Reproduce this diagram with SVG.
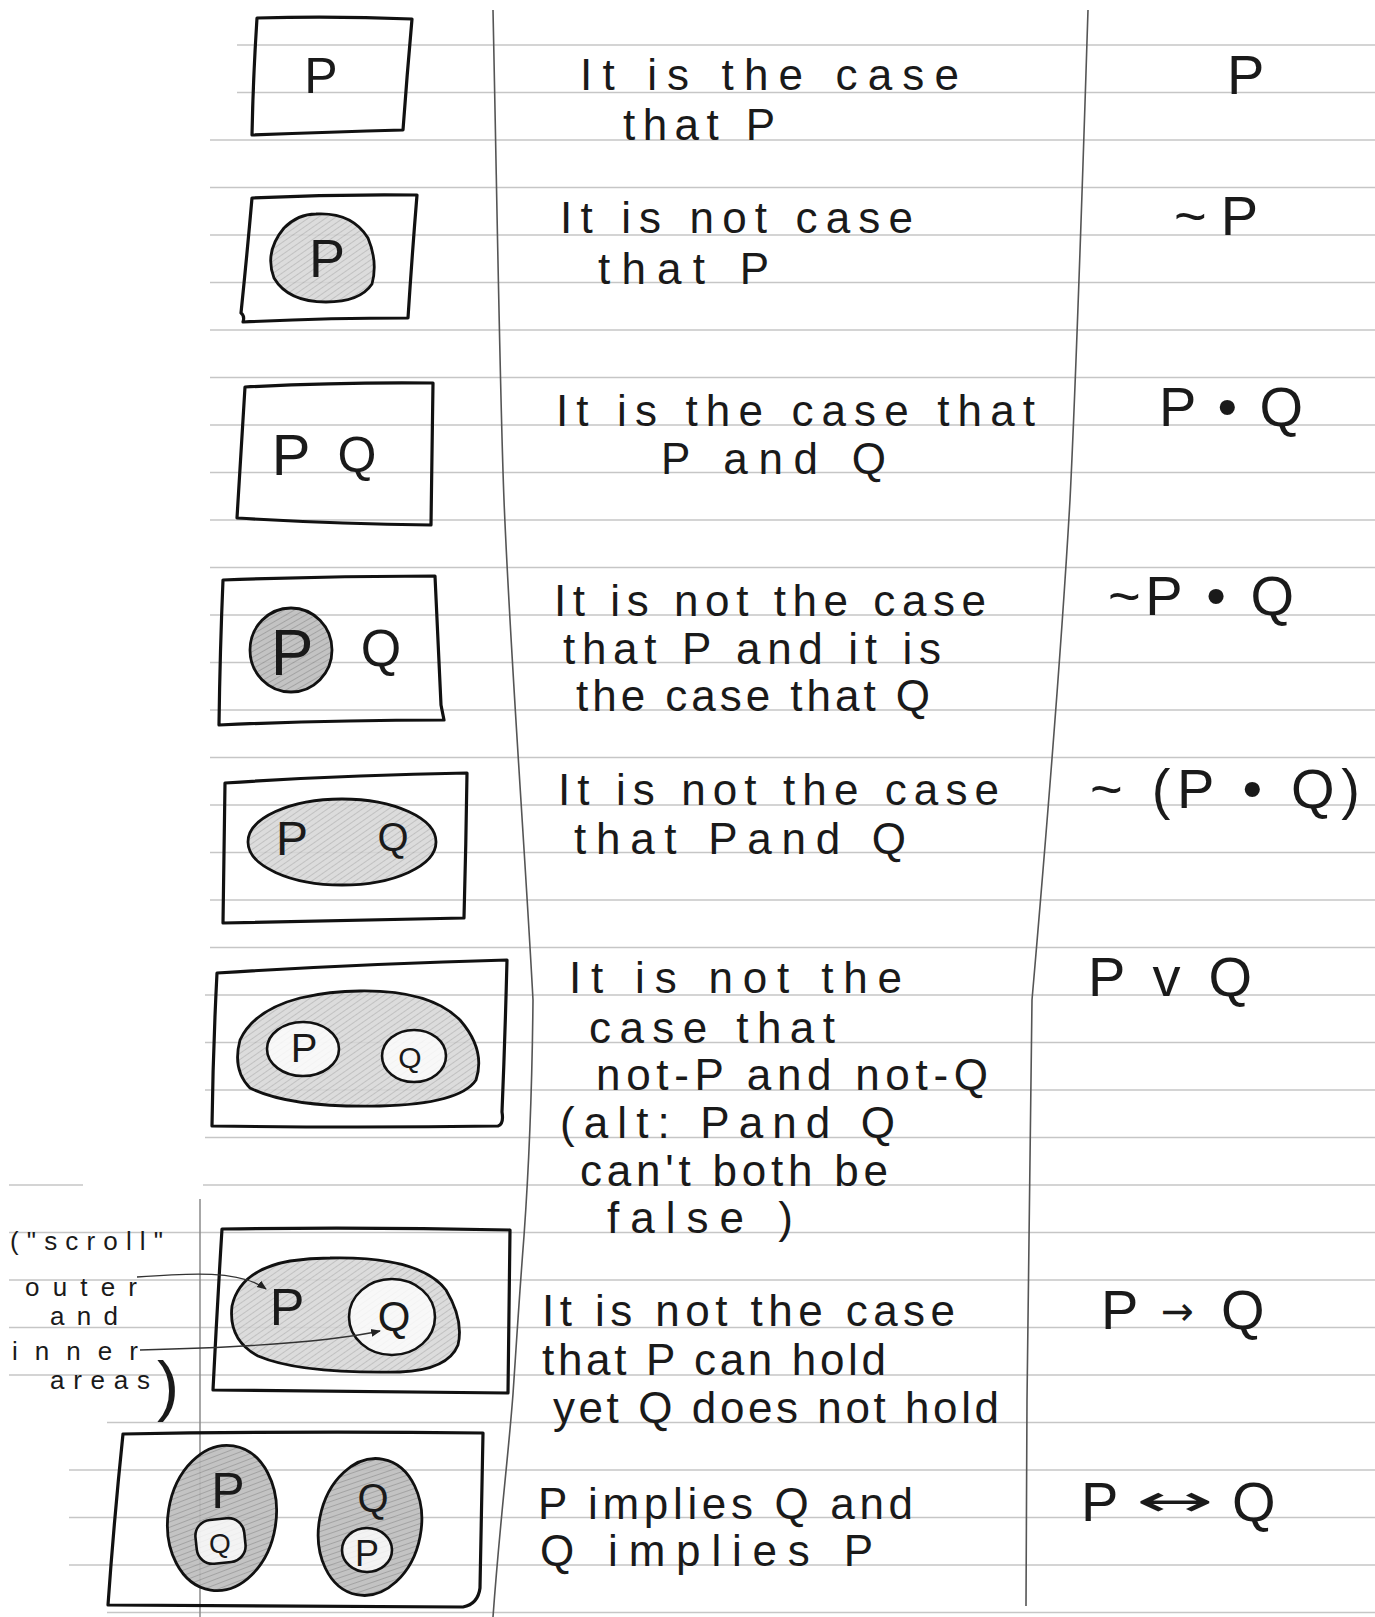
<svg xmlns="http://www.w3.org/2000/svg" width="1375" height="1617" viewBox="0 0 1375 1617">
<defs>
<pattern id="hatch" width="5" height="5" patternUnits="userSpaceOnUse" patternTransform="rotate(55)">
<rect width="5" height="5" fill="#d6d6d6"/>
<line x1="0" y1="0" x2="0" y2="5" stroke="#9c9c9c" stroke-width="1.1"/>
</pattern>
<pattern id="hatchDark" width="5" height="5" patternUnits="userSpaceOnUse" patternTransform="rotate(60)">
<rect width="5" height="5" fill="#bdbdbd"/>
<line x1="0" y1="0" x2="0" y2="5" stroke="#808080" stroke-width="1.2"/>
</pattern>
<marker id="arrow" viewBox="0 0 10 10" refX="9" refY="5" markerWidth="7" markerHeight="7" orient="auto-start-reverse">
<path d="M0,1 L10,5 L0,9 Z" fill="#222"/>
</marker>
</defs>
<style>
.rule{stroke:#c6c6c6;stroke-width:1.5}
.margin{stroke:#8a8a8a;stroke-width:1.5}
.divider{fill:none;stroke:#555;stroke-width:1.6}
.box{fill:none;stroke:#111;stroke-width:3.2;stroke-linejoin:round}
.shade{fill:url(#hatch);fill-opacity:0.85;stroke:#111;stroke-width:2.8}
.shadeDark{fill:url(#hatchDark);fill-opacity:0.9;stroke:#111;stroke-width:2.8}
.inner{fill:#fff;fill-opacity:0.8;stroke:#111;stroke-width:2.6}
.hw{font-family:"Liberation Sans","DejaVu Sans",sans-serif;fill:#1a1a1a;font-size:44px}
.sym{font-size:56px}
.arr{font-family:"DejaVu Sans","Liberation Sans",sans-serif;fill:#1a1a1a}
.note{font-size:26px}
.mid{text-anchor:middle}
.conn{fill:none;stroke:#333;stroke-width:1.4}
</style>
<rect width="1375" height="1617" fill="#fff"/>
<g id="paper">
<line class="rule" x1="237" y1="45" x2="1375" y2="45"/>
<line class="rule" x1="237" y1="92.5" x2="1375" y2="92.5"/>
<line class="rule" x1="210" y1="140" x2="1375" y2="140"/>
<line class="rule" x1="210" y1="187.5" x2="1375" y2="187.5"/>
<line class="rule" x1="210" y1="235" x2="1375" y2="235"/>
<line class="rule" x1="210" y1="282.5" x2="1375" y2="282.5"/>
<line class="rule" x1="210" y1="330" x2="1375" y2="330"/>
<line class="rule" x1="210" y1="377.5" x2="1375" y2="377.5"/>
<line class="rule" x1="210" y1="425" x2="1375" y2="425"/>
<line class="rule" x1="210" y1="472.5" x2="1375" y2="472.5"/>
<line class="rule" x1="210" y1="520" x2="1375" y2="520"/>
<line class="rule" x1="210" y1="567.5" x2="1375" y2="567.5"/>
<line class="rule" x1="210" y1="615" x2="1375" y2="615"/>
<line class="rule" x1="210" y1="662.5" x2="1375" y2="662.5"/>
<line class="rule" x1="210" y1="710" x2="1375" y2="710"/>
<line class="rule" x1="210" y1="757.5" x2="1375" y2="757.5"/>
<line class="rule" x1="210" y1="805" x2="1375" y2="805"/>
<line class="rule" x1="210" y1="852.5" x2="1375" y2="852.5"/>
<line class="rule" x1="210" y1="900" x2="1375" y2="900"/>
<line class="rule" x1="210" y1="947.5" x2="1375" y2="947.5"/>
<line class="rule" x1="205" y1="995" x2="1375" y2="995"/>
<line class="rule" x1="205" y1="1042.5" x2="1375" y2="1042.5"/>
<line class="rule" x1="205" y1="1090" x2="1375" y2="1090"/>
<line class="rule" x1="205" y1="1137.5" x2="1375" y2="1137.5"/>
<line class="rule" x1="9" y1="1185" x2="83" y2="1185"/>
<line class="rule" x1="203" y1="1185" x2="1375" y2="1185"/>
<line class="rule" x1="9" y1="1232.5" x2="1375" y2="1232.5"/>
<line class="rule" x1="9" y1="1280" x2="1375" y2="1280"/>
<line class="rule" x1="9" y1="1327.5" x2="1375" y2="1327.5"/>
<line class="rule" x1="9" y1="1375" x2="1375" y2="1375"/>
<line class="rule" x1="107" y1="1422.5" x2="1375" y2="1422.5"/>
<line class="rule" x1="69" y1="1470" x2="1375" y2="1470"/>
<line class="rule" x1="69" y1="1517.5" x2="1375" y2="1517.5"/>
<line class="rule" x1="69" y1="1565" x2="1375" y2="1565"/>
<line class="rule" x1="107" y1="1612.5" x2="1375" y2="1612.5"/>
<line class="margin" x1="200" y1="1199" x2="200" y2="1617"/>
<path class="divider" d="M493,10 C497,200 500,400 504,500 C510,650 525,850 533,1000 C532,1100 528,1180 524,1236 C519,1300 516,1350 513,1394 C508,1460 500,1520 493,1617"/>
<path class="divider" d="M1088,10 C1082,200 1076,380 1070,500 C1062,640 1045,850 1032,1000 C1029,1150 1028,1300 1027,1400 C1026,1500 1026,1560 1026,1606"/>
</g>
<g id="row1-diagram">
<path class="box" d="M257,18 Q335,16 412,19 Q407,75 403,130 Q330,132 252,135 Q253,80 257,18 Z"/>
<text class="hw mid" x="321" y="93" style="font-size:50px">P</text>
</g>
<g id="row1-text">
<text class="hw" x="580" y="90" textLength="379" lengthAdjust="spacing">It is the case</text>
<text class="hw" x="623" y="140" textLength="152" lengthAdjust="spacing">that P</text>
</g>
<g id="row1-symbol"><text class="hw sym" x="1227" y="94">P</text></g>
<g id="row2-diagram">
<path class="box" d="M252,198 Q335,194 417,195 Q412,256 408,318 Q326,318 243,322 Q245,316 241,313 Q247,255 252,198 Z"/>
<path class="shade" d="M316,214 Q352,212 368,238 Q378,262 372,284 Q360,302 326,302 Q288,302 274,278 Q264,252 284,228 Q298,214 316,214 Z"/>
<text class="hw mid" x="327" y="277" style="font-size:54px">P</text>
</g>
<g id="row2-text">
<text class="hw" x="560" y="233" textLength="353" lengthAdjust="spacing">It is not case</text>
<text class="hw" x="598" y="284" textLength="171" lengthAdjust="spacing">that P</text>
</g>
<g id="row2-symbol"><text class="hw sym" x="1174" y="235" textLength="84" lengthAdjust="spacing">~P</text></g>
<g id="row3-diagram">
<path class="box" d="M245,387 Q340,382 433,383 Q432,455 431,525 Q335,524 237,518 Q241,450 245,387 Z"/>
<text class="hw mid" x="291" y="475" style="font-size:58px">P</text>
<text class="hw mid" x="357" y="472" style="font-size:50px">Q</text>
</g>
<g id="row3-text">
<text class="hw" x="556" y="426" textLength="479" lengthAdjust="spacing">It is the case that</text>
<text class="hw" x="661" y="474" textLength="225" lengthAdjust="spacing">P and Q</text>
</g>
<g id="row3-symbol"><text class="hw sym" x="1159" y="426" textLength="144" lengthAdjust="spacing">P • Q</text></g>
<g id="row4-diagram">
<path class="box" d="M223,580 Q330,576 435,576 Q438,645 441,705 L444,720 Q330,720 219,725 Q220,650 223,580 Z"/>
<ellipse class="shadeDark" cx="291" cy="650" rx="41" ry="42"/>
<text class="hw mid" x="292" y="675" style="font-size:64px">P</text>
<text class="hw mid" x="381" y="666" style="font-size:52px">Q</text>
</g>
<g id="row4-text">
<text class="hw" x="554" y="616" textLength="432" lengthAdjust="spacing">It is not the case</text>
<text class="hw" x="563" y="664" textLength="378" lengthAdjust="spacing">that P and it is</text>
<text class="hw" x="576" y="711" textLength="354" lengthAdjust="spacing">the case that Q</text>
</g>
<g id="row4-symbol"><text class="hw sym" x="1108" y="615" textLength="186" lengthAdjust="spacing">~P • Q</text></g>
<g id="row5-diagram">
<path class="box" d="M225,783 Q345,775 467,773 Q466,845 464,918 Q345,920 223,923 Q224,853 225,783 Z"/>
<ellipse class="shade" cx="342" cy="842" rx="94" ry="43"/>
<text class="hw mid" x="292" y="855" style="font-size:48px">P</text>
<text class="hw mid" x="393" y="851" style="font-size:40px">Q</text>
</g>
<g id="row5-text">
<text class="hw" x="558" y="805" textLength="441" lengthAdjust="spacing">It is not the case</text>
<text class="hw" x="574" y="854" textLength="332" lengthAdjust="spacing">that Pand Q</text>
</g>
<g id="row5-symbol"><text class="hw sym" x="1090" y="808" textLength="270" lengthAdjust="spacing">~ (P • Q)</text></g>
<g id="row6-diagram">
<path class="box" d="M217,973 Q360,964 507,960 Q505,1040 502,1112 Q504,1124 498,1126 Q360,1128 212,1126 Q213,1050 217,973 Z"/>
<path class="shade" d="M360,991 Q430,990 460,1020 Q486,1050 476,1080 Q460,1104 380,1106 Q290,1108 250,1088 Q232,1070 240,1040 Q254,1010 300,998 Q330,991 360,991 Z"/>
<ellipse class="inner" cx="303" cy="1049" rx="36" ry="27"/>
<ellipse class="inner" cx="414" cy="1056" rx="32" ry="26"/>
<text class="hw mid" x="304" y="1062" style="font-size:40px">P</text>
<text class="hw mid" x="410" y="1068" style="font-size:30px">Q</text>
</g>
<g id="row6-text">
<text class="hw" x="569" y="993" textLength="333" lengthAdjust="spacing">It is not the</text>
<text class="hw" x="589" y="1043" textLength="246" lengthAdjust="spacing">case that</text>
<text class="hw" x="596" y="1090" textLength="392" lengthAdjust="spacing">not-P and not-Q</text>
<text class="hw" x="560" y="1138" textLength="335" lengthAdjust="spacing">(alt: Pand Q</text>
<text class="hw" x="580" y="1186" textLength="308" lengthAdjust="spacing">can't both be</text>
<text class="hw" x="607" y="1233" textLength="186" lengthAdjust="spacing">false )</text>
</g>
<g id="row6-symbol"><text class="hw sym" x="1088" y="996" textLength="164" lengthAdjust="spacing">P v Q</text></g>
<g id="row7-diagram">
<path class="box" d="M222,1229 Q365,1227 510,1230 Q509,1310 508,1393 Q360,1392 213,1390 Q217,1310 222,1229 Z"/>
<path class="shade" d="M330,1258 Q420,1256 446,1290 Q464,1320 458,1345 Q448,1370 400,1372 Q300,1374 258,1356 Q228,1340 232,1306 Q240,1270 290,1261 Q310,1258 330,1258 Z"/>
<ellipse class="inner" cx="392" cy="1317" rx="43" ry="38"/>
<text class="hw mid" x="287" y="1325" style="font-size:52px">P</text>
<text class="hw mid" x="394" y="1331" style="font-size:42px">Q</text>
</g>
<g id="row7-text">
<text class="hw" x="542" y="1326" textLength="413" lengthAdjust="spacing">It is not the case</text>
<text class="hw" x="542" y="1375" textLength="344" lengthAdjust="spacing">that P can hold</text>
<text class="hw" x="553" y="1423" textLength="446" lengthAdjust="spacing">yet Q does not hold</text>
</g>
<g id="row7-symbol">
<text class="hw sym" x="1101" y="1329">P</text>
<text class="arr" x="1161" y="1325" style="font-size:40px" textLength="33" lengthAdjust="spacingAndGlyphs">→</text>
<text class="hw sym" x="1221" y="1329">Q</text>
</g>
<g id="scroll-note">
<text class="hw note" x="10" y="1250" textLength="153" lengthAdjust="spacing">("scroll"</text>
<text class="hw note" x="25" y="1296" textLength="112" lengthAdjust="spacing">outer</text>
<text class="hw note" x="50" y="1325" textLength="68" lengthAdjust="spacing">and</text>
<text class="hw note" x="12" y="1360" textLength="126" lengthAdjust="spacing">inner</text>
<text class="hw note" x="50" y="1389" textLength="100" lengthAdjust="spacing">areas</text>
<text class="hw" x="157" y="1408" style="font-size:66px">)</text>
</g>
<g id="row8-diagram">
<path class="box" d="M123,1434 Q300,1431 483,1433 L480,1588 Q478,1604 463,1607 Q290,1606 108,1605 Q114,1520 123,1434 Z"/>
<ellipse class="shadeDark" cx="222" cy="1518" rx="54" ry="73" transform="rotate(9 222 1518)"/>
<ellipse class="shadeDark" cx="370" cy="1527" rx="51" ry="69" transform="rotate(11 370 1527)"/>
<rect class="inner" x="196" y="1519" width="49" height="44" rx="16" ry="16" transform="rotate(-6 220 1541)"/>
<ellipse class="inner" cx="367" cy="1550" rx="25" ry="22"/>
<text class="hw mid" x="228" y="1508" style="font-size:50px">P</text>
<text class="hw mid" x="220" y="1553" style="font-size:28px">Q</text>
<text class="hw mid" x="373" y="1512" style="font-size:40px">Q</text>
<text class="hw mid" x="367" y="1566" style="font-size:36px">P</text>
</g>
<g id="row8-text">
<text class="hw" x="538" y="1519" textLength="375" lengthAdjust="spacing">P implies Q and</text>
<text class="hw" x="540" y="1566" textLength="333" lengthAdjust="spacing">Q implies P</text>
</g>
<g id="row8-symbol">
<text class="hw sym" x="1081" y="1521">P</text>
<text class="arr" x="1136" y="1516" style="font-size:44px" textLength="78" lengthAdjust="spacingAndGlyphs">↔</text>
<text class="hw sym" x="1232" y="1521">Q</text>
</g>
<g id="connectors">
<path class="conn" d="M137,1277 C190,1273 240,1270 266,1289" marker-end="url(#arrow)"/>
<path class="conn" d="M140,1350 C220,1348 320,1344 380,1331" marker-end="url(#arrow)"/>
</g>
</svg>
